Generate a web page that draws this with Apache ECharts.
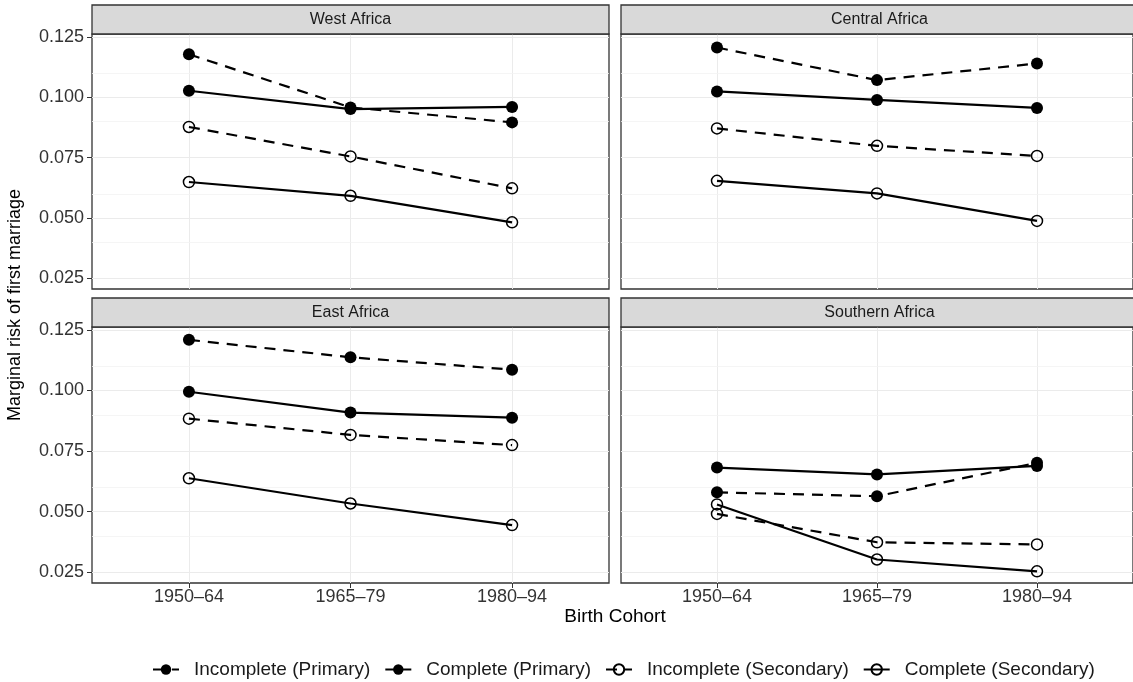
<!DOCTYPE html>
<html><head><meta charset="utf-8">
<script src="https://cdn.jsdelivr.net/npm/echarts@6/dist/echarts.min.js"></script>
<style>html,body{margin:0;padding:0;background:#fff}#c{width:1133px;height:682px}</style>
</head><body><div id="c"></div>
<script>
// ---- data ----
const cohorts = ['1950–64', '1965–79', '1980–94'];
const regions = ['West Africa', 'Central Africa', 'East Africa', 'Southern Africa'];
const seriesNames = ['Incomplete (Primary)', 'Complete (Primary)', 'Incomplete (Secondary)', 'Complete (Secondary)'];

const westIncPrim = [0.1178, 0.0958, 0.0896];
const westCompPrim = [0.1027, 0.0951, 0.0960];
const westIncSec = [0.0877, 0.0755, 0.0623];
const westCompSec = [0.0649, 0.0592, 0.0482];

const centralIncPrim = [0.1206, 0.1071, 0.1140];
const centralCompPrim = [0.1024, 0.0989, 0.0956];
const centralIncSec = [0.0871, 0.0799, 0.0757];
const centralCompSec = [0.0654, 0.0602, 0.0488];

const eastIncPrim = [0.1209, 0.1137, 0.1086];
const eastCompPrim = [0.0995, 0.0909, 0.0888];
const eastIncSec = [0.0884, 0.0817, 0.0775];
const eastCompSec = [0.0638, 0.0534, 0.0445];

const southIncPrim = [0.0580, 0.0564, 0.0702];
const southCompPrim = [0.0682, 0.0654, 0.0689];
const southIncSec = [0.0491, 0.0374, 0.0365];
const southCompSec = [0.0530, 0.0303, 0.0254];

const yTicks = [0.025, 0.050, 0.075, 0.100, 0.125];
const yMinorTicks = [0.0375, 0.0625, 0.0875, 0.1125];

const panelValues = [
  [westIncPrim, westCompPrim, westIncSec, westCompSec],
  [centralIncPrim, centralCompPrim, centralIncSec, centralCompSec],
  [eastIncPrim, eastCompPrim, eastIncSec, eastCompSec],
  [southIncPrim, southCompPrim, southIncSec, southCompSec]
];

// ---- layout ----
const Y_MIN = 0.0206, Y_MAX = 0.1262;
const X_MIN = 0.4, X_MAX = 3.6;
const STRIP_H = 29;
const gridBoxes = [
  {left: 92, top: 34, width: 517, height: 255},
  {left: 621, top: 34, width: 517, height: 255},
  {left: 92, top: 327, width: 517, height: 256},
  {left: 621, top: 327, width: 517, height: 256}
];
const FONT = '"Liberation Sans", Arial, sans-serif';
const xPos = cohorts.map((c, i) => i + 1);

const grid = gridBoxes.map(b => ({
  left: b.left, top: b.top, width: b.width, height: b.height,
  show: true, borderColor: '#333', borderWidth: 1.3, backgroundColor: '#fff'
}));

const xAxis = gridBoxes.map((b, i) => {
  const bottom = i >= 2;
  return {
    type: 'value', gridIndex: i, min: X_MIN, max: X_MAX,
    axisLine: {show: false},
    axisTick: {show: bottom, customValues: xPos, length: 5, lineStyle: {color: '#333', width: 1}},
    axisLabel: {show: bottom, customValues: xPos, margin: 5,
      formatter: v => cohorts[Math.round(v) - 1] || '',
      color: '#333', fontSize: 18, fontFamily: FONT},
    splitLine: {show: true, lineStyle: {color: '#ebebeb', width: 1}}
  };
});

const yAxis = gridBoxes.map((b, i) => {
  const left = i % 2 === 0;
  return {
    type: 'value', gridIndex: i, min: Y_MIN, max: Y_MAX,
    axisLine: {show: false},
    axisTick: {show: left, customValues: yTicks, length: 5, lineStyle: {color: '#333', width: 1}},
    axisLabel: {show: left, customValues: yTicks, margin: 8,
      formatter: v => Number(v).toFixed(3),
      color: '#333', fontSize: 18, fontFamily: FONT},
    splitLine: {show: true, lineStyle: {color: '#ebebeb', width: 1}}
  };
});

const styles = [
  {dash: [11, 8], filled: true},
  {dash: 'solid', filled: true},
  {dash: [11, 8], filled: false},
  {dash: 'solid', filled: false}
];

const series = [];
panelValues.forEach((vals, gi) => {
  vals.forEach((arr, si) => {
    const st = styles[si];
    const s = {
      name: seriesNames[si], type: 'line', xAxisIndex: gi, yAxisIndex: gi,
      data: arr.map((v, k) => [xPos[k], v]),
      symbol: 'circle', symbolSize: st.filled ? 12 : 11,
      lineStyle: {color: '#000', width: 2.2, type: st.dash},
      itemStyle: st.filled ? {color: '#000'} : {color: 'rgba(255,255,255,0)', borderColor: '#000', borderWidth: 1.5},
      emphasis: {disabled: true}, z: 3
    };
    if (si === 0) {
      s.markLine = {
        silent: true, symbol: 'none', z: 1, animation: false,
        label: {show: false},
        lineStyle: {color: '#f3f3f3', width: 0.8, type: 'solid'},
        emphasis: {disabled: true},
        data: yMinorTicks.map(v => ({yAxis: v}))
      };
    }
    series.push(s);
  });
});

const graphic = [];
gridBoxes.forEach((b, i) => {
  graphic.push({
    type: 'rect', shape: {x: b.left, y: b.top - STRIP_H, width: b.width, height: STRIP_H},
    style: {fill: '#d9d9d9', stroke: '#333', lineWidth: 1.3}, z: 10
  });
  graphic.push({
    type: 'text', x: b.left + b.width / 2, y: b.top - STRIP_H / 2,
    style: {text: regions[i], fill: '#1a1a1a', font: '16px ' + FONT, textAlign: 'center', textVerticalAlign: 'middle'}, z: 11
  });
});
graphic.push({
  type: 'text', x: 615, y: 617,
  style: {text: 'Birth Cohort', fill: '#000', font: '19px ' + FONT, textAlign: 'center', textVerticalAlign: 'middle'}
});
graphic.push({
  type: 'text', x: 15, y: 305, rotation: Math.PI / 2,
  style: {text: 'Marginal risk of first marriage', fill: '#000', font: '18px ' + FONT, textAlign: 'center', textVerticalAlign: 'middle'}
});

const chart = echarts.init(document.getElementById('c'), null, {renderer: 'canvas'});
chart.setOption({
  animation: false,
  backgroundColor: '#fff',
  grid, xAxis, yAxis, series, graphic,
  legend: {
    data: seriesNames, top: 655, left: 147, itemWidth: 26, itemHeight: 13, itemGap: 14,
    textStyle: {fontSize: 19, color: '#1a1a1a', fontFamily: FONT, padding: [0, 0, 0, 10]}
  }
});
</script></body></html>
